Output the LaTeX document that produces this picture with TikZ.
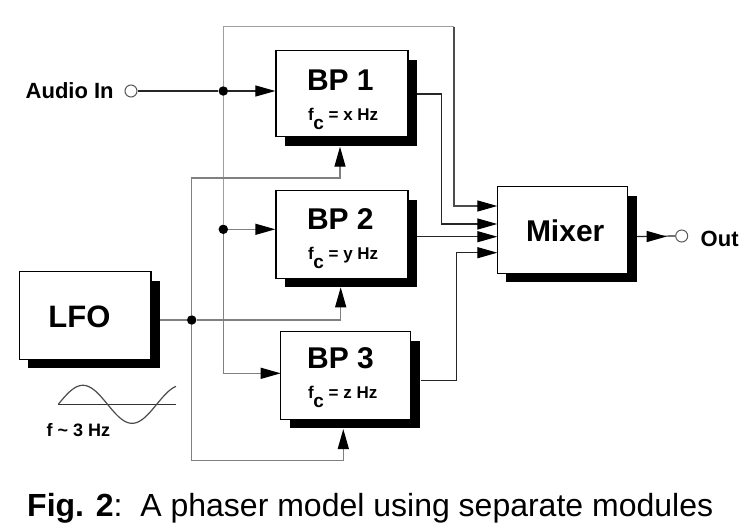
\documentclass[tikz,border=0pt]{standalone}
\usepackage{fontspec}
\setmainfont{Liberation Sans}
\usetikzlibrary{arrows.meta,shadows,backgrounds}
\begin{document}
\begin{tikzpicture}[x=1pt,y=-1pt,
  block/.style={draw=black, line width=1.3pt, fill=white, inner sep=0pt,
    drop shadow={shadow xshift=9pt, shadow yshift=-9pt, fill=black, opacity=1}},
  big/.style={inner sep=0pt, anchor=base west, font=\fontsize{30}{30}\selectfont\bfseries},
  sub/.style={inner sep=0pt, anchor=base west, font=\fontsize{17}{17}\selectfont\bfseries},
  lbl/.style={inner sep=0pt, anchor=base west, font=\fontsize{22}{22}\selectfont\bfseries},
  wire/.style={line width=1.2pt, draw=black!85},
  lgray/.style={line width=1.3pt, draw=black!38},
  mgray/.style={line width=1.3pt, draw=black!50},
  dgray/.style={line width=1.2pt, draw=black!70},
  arr/.style={-{Triangle[length=20pt,width=11pt,color=black]}},
  dot/.style={circle, fill=black, inner sep=0pt, minimum size=9.5pt},
  port/.style={circle, draw=black!65, fill=white, line width=1pt, inner sep=0pt, minimum size=12pt}
]
\useasboundingbox (0,0) rectangle (753,531);

% blocks
\node[block, minimum width=132pt, minimum height=86pt] (bp1) at (342,93.7) {};
\node[block, minimum width=132pt, minimum height=87.6pt] (bp2) at (342,234.5) {};
\node[block, minimum width=130pt, minimum height=87.6pt] (bp3) at (345.7,375.5) {};
\node[block, minimum width=131.7pt, minimum height=87.6pt] (lfo) at (85.2,315.5) {};
\node[block, minimum width=130.4pt, minimum height=86.6pt] (mix) at (562.5,230) {};

% block texts
\node[big] (bp1t) at (306.8,90) {BP 1};
\node[sub] (bp1f) at (308,120.3) {f\kern-0.5pt\raisebox{-9pt}{\fontsize{19}{19}\selectfont c}\ = x Hz};
\node[big] (bp2t) at (306.8,229.5) {BP 2};
\node[sub] (bp2f) at (308,259.8) {f\kern-0.5pt\raisebox{-9pt}{\fontsize{19}{19}\selectfont c}\ = y Hz};
\node[big] (bp3t) at (307,368.3) {BP 3};
\node[sub] (bp3f) at (308,398.3) {f\kern-0.5pt\raisebox{-9pt}{\fontsize{19}{19}\selectfont c}\ = z Hz};
\node[big, font=\fontsize{31}{31}\selectfont\bfseries] (lfot) at (48.2,327.3) {LFO};
\node[big] (mixt) at (525.8,241.7) {Mixer};

% ports and labels
\node[port] (ain) at (131,91) {};
\node[lbl] (aint) at (25.5,98.7) {Audio In};
\node[port] (aout) at (681.7,236) {};
\node[lbl] (aoutt) at (700.5,246.7) {Out};

% junction dots
\node[dot] (d1) at (223.3,91) {};
\node[dot] (d2) at (223.3,229.3) {};
\node[dot] (dL) at (191.7,320) {};

% coordinates
\coordinate (topR) at (454,26.7);
\coordinate (in3) at (280.7,373.3);
\coordinate (t1) at (340,146.7);
\coordinate (k1) at (340,178);
\coordinate (t2) at (340.7,287.3);
\coordinate (t3) at (343.3,429);
\coordinate (k3) at (343.3,460.7);
\coordinate (o1) at (416.7,94);
\coordinate (q1) at (441.3,94);
\coordinate (o2) at (416.7,236.7);
\coordinate (o3) at (420.7,380.7);
\coordinate (q3) at (456.7,380.7);
\coordinate (m1) at (497.3,206);
\coordinate (m2) at (497.3,224);
\coordinate (m3) at (497.3,236.7);
\coordinate (m4) at (497.3,252.7);
\coordinate (o5) at (637.3,236.5);
\coordinate (tipo) at (666.7,236.5);

\begin{pgfonlayer}{background}
  \fill[white] (0,0) rectangle (753,531);
  % audio path
  \draw[wire] (ain.east) -- (d1);
  \draw[wire, arr] (d1) -- (d1 -| bp1.west);
  \draw[lgray] (d1) |- (topR);
  \draw[dgray, arr] (topR) |- (m1);
  \draw[lgray] (d1) -- (d2);
  \draw[mgray, arr] (d2) -- (d2 -| bp2.west);
  \draw[mgray, arr] (d2) |- (in3);
  % LFO paths
  \draw[mgray] (lfo.east |- dL) -- (dL);
  \draw[mgray, arr] (dL) -| (t2);
  \draw[mgray, arr] (dL) |- (k1) -- (t1);
  \draw[mgray, arr] (dL) |- (k3) -- (t3);
  % outputs to mixer
  \draw[wire, arr] (o1) -- (q1) |- (m2);
  \draw[wire, arr] (o2) -- (m3);
  \draw[wire, arr] (o3) -- (q3) |- (m4);
  \draw[wire] (o5) -- (aout.west);
  \draw[wire, arr] (o5) -- (tipo);
\end{pgfonlayer}

% LFO sine symbol
\draw[line width=1pt, black!80] (58.3,404.3) -- (176,404.3);
\draw[line width=1.2pt, black!70] plot[domain=0:117.7, samples=120, smooth] ({58.3+\x},{404.3-19*sin(3.6585*\x)});
\node[sub, font=\fontsize{18}{18}\selectfont\bfseries] (freq) at (46.5,436.7) {f \textasciitilde\ 3 Hz};

% caption
\node[inner sep=0pt, anchor=base west, font=\fontsize{32}{32}\selectfont] (cap) at (27,516) {\textbf{Fig. 2}:\ \ A phaser model using separate modules};
\end{tikzpicture}
\end{document}
